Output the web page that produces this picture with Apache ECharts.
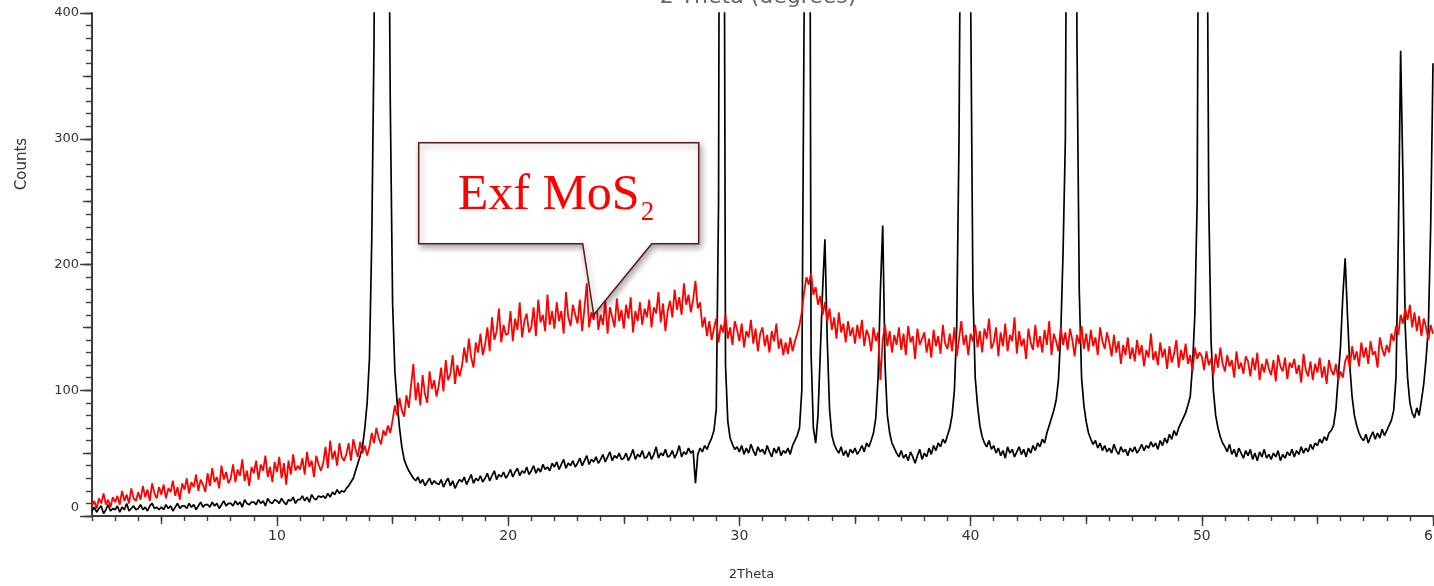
<!DOCTYPE html>
<html>
<head>
<meta charset="utf-8">
<title>XRD – Exf MoS2</title>
<script src="https://cdn.jsdelivr.net/npm/echarts@6/dist/echarts.min.js"></script>
<style>
  html, body { margin: 0; padding: 0; background: #ffffff; }
  #chart { width: 1434px; height: 586px; }
</style>
</head>
<body>
<div id="chart"></div>
<script>
// Step scan: 2θ from 2.0° to 60.0° in 0.1° steps
const SCAN_START = 2.0;
const SCAN_STEP = 0.1;

// Exfoliated MoS2 (red trace), counts per step, one row per degree
const exfoliatedCounts = [
  8,12,6,14,10,18,9,13,7,15,
  11,16,9,20,12,17,10,22,14,12,
  19,13,24,15,21,12,26,18,14,23,
  17,25,14,22,19,28,16,23,13,26,
  21,30,18,27,23,33,20,29,25,19,
  34,24,38,27,31,22,40,29,35,26,
  30,41,27,37,32,45,28,36,24,39,
  34,44,29,41,36,48,31,39,27,43,
  35,47,30,42,25,44,33,49,36,40,
  37,46,33,51,39,44,31,48,41,36,
  42,55,38,60,45,52,40,58,47,44,
  49,58,44,61,53,47,59,50,56,48,
  55,66,58,70,62,57,68,64,72,66,
  76,88,80,94,84,79,96,86,104,121,
  92,106,88,112,97,90,115,101,108,95,
  104,118,99,124,108,113,128,105,120,111,
  119,134,122,141,126,118,138,130,145,128,
  136,150,131,158,140,147,165,138,152,144,
  145,163,139,157,148,170,142,155,161,146,
  150,166,143,172,154,160,147,176,152,163,
  149,170,155,163,145,178,158,151,168,160,
  153,172,147,165,185,150,162,156,174,148,
  160,152,171,145,166,158,150,173,155,164,
  149,168,157,174,146,163,155,170,152,165,
  158,172,150,166,161,178,154,169,147,163,
  171,158,180,164,174,160,185,168,176,162,
  172,187,165,170,150,158,143,155,140,149,
  157,138,152,146,160,141,150,136,155,148,
  139,153,134,147,142,156,137,149,131,145,
  150,135,144,130,147,139,153,133,141,128,
  138,129,142,131,139,145,152,162,178,190,
  184,193,176,182,168,175,160,170,155,165,
  148,158,141,162,146,153,138,155,143,150,
  137,152,141,156,135,148,143,131,150,139,
  146,108,140,152,135,147,130,144,136,150,
  132,145,128,151,138,143,125,149,136,141,
  146,130,141,126,148,135,143,129,152,137,
  133,145,131,150,127,141,155,136,144,128,
  145,139,152,134,147,130,149,141,157,133,
  138,150,127,146,135,153,131,144,139,158,
  129,147,135,141,125,149,138,132,152,134,
  143,130,148,136,155,128,145,139,131,150,
  136,146,132,149,140,127,144,137,151,133,
  145,131,148,135,142,128,150,139,133,146,
  138,127,144,130,139,121,136,128,142,125,
  134,123,140,128,136,119,132,126,145,124,
  131,120,138,126,133,117,135,122,129,140,
  118,132,124,137,121,128,115,134,125,130,
  127,116,131,120,125,112,129,118,134,121,
  115,128,119,124,110,131,117,122,113,127,
  123,111,126,116,130,108,121,114,125,117,
  112,124,107,128,119,115,126,109,122,118,
  125,113,120,106,129,116,111,123,108,121,
  114,126,110,119,105,124,116,112,121,108,
  115,110,123,128,118,135,124,131,119,138,
  126,134,121,139,128,131,118,142,133,127,
  136,130,145,139,151,144,160,153,165,156,
  168,150,162,147,159,143,157,150,140,152,
  145
];

// Bulk MoS2 (black trace), counts per step, one row per degree
const bulkCounts = [
  4,7,3,6,8,2,5,9,4,6,
  5,8,3,7,5,10,4,6,8,5,
  6,9,5,7,4,8,10,6,7,5,
  7,5,9,6,8,4,7,10,6,8,
  8,6,10,7,9,5,8,11,7,9,
  9,7,11,8,10,6,9,12,8,10,
  10,8,12,9,11,7,13,10,9,11,
  11,9,13,10,12,8,14,11,10,13,
  12,10,14,11,9,13,12,15,10,13,
  13,16,12,15,11,17,14,13,16,15,
  16,14,18,15,19,17,21,18,20,19,
  22,24,27,30,36,42,48,55,70,90,
  125,220,380,900,2500,3200,2400,1200,600,330,
  170,115,90,70,55,45,40,36,33,30,
  28,31,26,29,24,27,30,25,28,26,
  25,29,23,27,30,24,28,22,26,29,
  27,31,25,29,33,26,30,28,32,27,
  30,34,28,32,36,29,33,31,35,30,
  33,37,31,35,38,32,36,34,39,33,
  36,40,34,38,35,41,37,39,36,42,
  39,43,37,41,45,38,42,40,44,39,
  42,46,40,44,48,41,45,43,47,42,
  45,49,43,47,51,44,48,46,50,45,
  46,50,44,48,53,45,49,47,52,46,
  47,51,45,49,55,46,50,48,53,47,
  48,52,46,50,56,47,51,49,54,50,
  52,26,49,54,51,56,53,58,62,68,
  85,250,1100,800,120,75,62,57,53,55,
  51,56,49,54,50,57,52,48,55,51,
  53,49,56,51,47,54,50,55,48,52,
  50,54,49,56,60,64,70,100,400,1800,
  900,130,70,58,80,130,180,220,140,85,
  64,57,53,50,55,48,52,47,53,50,
  54,49,52,56,51,58,55,60,66,78,
  110,180,231,120,80,66,58,54,50,47,
  52,46,49,44,51,47,42,48,53,45,
  50,47,54,49,56,52,58,55,61,58,
  64,70,80,100,150,300,600,1500,2200,1400,
  420,180,110,88,72,63,58,55,60,53,
  56,50,54,48,52,46,55,50,53,47,
  51,55,49,53,47,54,50,56,52,58,
  55,61,58,66,72,78,84,92,108,145,
  210,300,700,1800,2000,900,380,180,110,88,
  75,66,61,57,60,54,58,52,56,51,
  54,50,57,52,49,55,51,53,48,54,
  51,55,50,53,57,52,56,54,59,55,
  58,53,60,56,62,58,65,61,68,64,
  70,74,78,82,88,95,120,160,250,700,
  1800,1500,600,250,140,100,80,70,63,58,
  55,51,57,49,53,47,54,50,46,52,
  48,53,45,50,44,51,47,53,46,49,
  45,50,47,52,44,49,46,51,48,53,
  47,52,49,55,50,54,51,57,53,58,
  56,61,58,63,60,66,68,72,85,110,
  135,175,205,160,120,95,80,72,66,62,
  60,65,58,63,67,61,66,62,69,64,
  68,72,76,84,110,220,370,270,150,110,
  90,82,78,86,80,92,105,125,150,230,
  360
];

// Axis ticks
const xLabelValues = [10, 20, 30, 40, 50, 60];
const xMidTickValues = [5, 15, 25, 35, 45, 55];
const yLabelValues = [0, 100, 200, 300, 400];

// Callout annotation on the exfoliated trace
const calloutText = 'Exf MoS';
const calloutSub = '2';
const calloutAnchor = [23.7, 160];

const toPairs = counts =>
  counts.map((c, i) => [+(SCAN_START + i * SCAN_STEP).toFixed(1), c]);

const xMinorTickValues = [];
for (let v = 2; v <= 60; v++) xMinorTickValues.push(v);

const FONT = 'DejaVu Sans';
const AXIS_COLOR = '#3c3c3c';
const gridRect = { left: 92, right: 1, top: 13, bottom: 70, containLabel: false, outerBoundsMode: 'none' };

const hiddenAxisParts = {
  axisLine: { show: false },
  axisLabel: { show: false },
  splitLine: { show: false }
};

const chart = echarts.init(document.getElementById('chart'), null, { renderer: 'canvas' });

const option = {
  animation: false,
  backgroundColor: '#ffffff',
  grid: [
    Object.assign({}, gridRect),
    Object.assign({}, gridRect),
    Object.assign({}, gridRect)
  ],
  xAxis: [
    {
      type: 'value', gridIndex: 0, min: 2, max: 60,
      name: '2Theta', nameLocation: 'middle', nameGap: 52,
      nameTextStyle: { fontFamily: FONT, fontSize: 13, color: '#333', padding: [0, 22, 0, 0] },
      axisLine: { show: true, onZero: false, lineStyle: { color: AXIS_COLOR, width: 2 } },
      axisTick: { show: true, customValues: xLabelValues, length: 10, lineStyle: { color: AXIS_COLOR, width: 1.4 } },
      axisLabel: { customValues: xLabelValues, margin: 13, fontFamily: FONT, fontSize: 14, color: '#333' },
      splitLine: { show: false }
    },
    Object.assign({
      type: 'value', gridIndex: 1, min: 2, max: 60,
      axisTick: { show: true, customValues: xMidTickValues, length: 8, lineStyle: { color: AXIS_COLOR, width: 1.4 } }
    }, hiddenAxisParts),
    Object.assign({
      type: 'value', gridIndex: 2, min: 2, max: 60,
      axisTick: { show: true, customValues: xMinorTickValues, length: 5, lineStyle: { color: AXIS_COLOR, width: 1.4 } }
    }, hiddenAxisParts)
  ],
  yAxis: [
    {
      type: 'value', gridIndex: 0, min: 0, max: 400, interval: 100,
      axisLine: { show: true, onZero: false, lineStyle: { color: AXIS_COLOR, width: 2 } },
      axisTick: { show: true, customValues: yLabelValues, length: 12, lineStyle: { color: AXIS_COLOR, width: 1.4 } },
      axisLabel: {
        customValues: yLabelValues, margin: 13, fontFamily: FONT, fontSize: 13, color: '#333',
        formatter: v => (v === 0 ? '{z|0}' : String(v)),
        rich: { z: { fontFamily: FONT, fontSize: 13, color: '#333', padding: [0, 0, 16, 0] } }
      },
      splitLine: { show: false }
    },
    Object.assign({
      type: 'value', gridIndex: 1, min: 0, max: 400, interval: 50,
      axisTick: { show: true, length: 9, lineStyle: { color: AXIS_COLOR, width: 1.4 } }
    }, hiddenAxisParts),
    Object.assign({
      type: 'value', gridIndex: 2, min: 0, max: 400, interval: 10,
      axisTick: { show: true, length: 6, lineStyle: { color: AXIS_COLOR, width: 1.4 } }
    }, hiddenAxisParts)
  ],
  series: [
    {
      name: 'Bulk MoS2', type: 'line', xAxisIndex: 0, yAxisIndex: 0,
      data: toPairs(bulkCounts), showSymbol: false,
      lineStyle: { color: '#000000', width: 1.7 }, clip: true, z: 2
    },
    {
      name: 'Exf MoS2', type: 'line', xAxisIndex: 0, yAxisIndex: 0,
      data: toPairs(exfoliatedCounts), showSymbol: false,
      lineStyle: { color: '#ff0000', width: 1.8 }, clip: true, z: 3
    }
  ]
};

chart.setOption(option);

// Callout box with a pointer onto the exfoliated trace
const [tx, ty] = chart.convertToPixel({ gridIndex: 0 }, calloutAnchor);
const L = tx - 175, R = tx + 105, T = ty - 172, B = ty - 71;

const measureCtx = document.createElement('canvas').getContext('2d');
const MAIN_FONT_SIZE = 50;
measureCtx.font = MAIN_FONT_SIZE + 'px "Liberation Serif"';
const mainWidth = measureCtx.measureText(calloutText).width;
const mainX = L + 39;

chart.setOption({
  graphic: [
    {
      type: 'text', x: 758, y: -3, z: 100,
      style: { text: '2 Theta (degrees)', fontFamily: FONT, fontSize: 22, fill: '#666',
               textAlign: 'center', textVerticalAlign: 'middle' }
    },
    {
      type: 'text', x: 22, y: 164, rotation: Math.PI / 2, z: 100,
      style: { text: 'Counts', fontFamily: FONT, fontSize: 15, fill: '#333',
               textAlign: 'center', textVerticalAlign: 'middle' }
    },
    {
      type: 'polygon', z: 100,
      shape: { points: [[L, T], [R, T], [R, B], [tx + 58, B], [tx, ty], [tx - 11, B], [L, B]] },
      style: { fill: '#ffffff', stroke: '#5e1a1a', lineWidth: 1.5,
               shadowBlur: 6, shadowOffsetX: 2, shadowOffsetY: 3, shadowColor: 'rgba(0,0,0,0.35)' }
    },
    {
      type: 'text', x: mainX, y: T + 53, z: 101,
      style: { text: calloutText, fontFamily: 'Liberation Serif', fontSize: MAIN_FONT_SIZE, fill: '#ff0000',
               textAlign: 'left', textVerticalAlign: 'middle' }
    },
    {
      type: 'text', x: mainX + mainWidth + 1, y: T + 70, z: 101,
      style: { text: calloutSub, fontFamily: 'Liberation Serif', fontSize: 27, fill: '#ff0000',
               textAlign: 'left', textVerticalAlign: 'middle' }
    }
  ]
});
</script>
</body>
</html>
